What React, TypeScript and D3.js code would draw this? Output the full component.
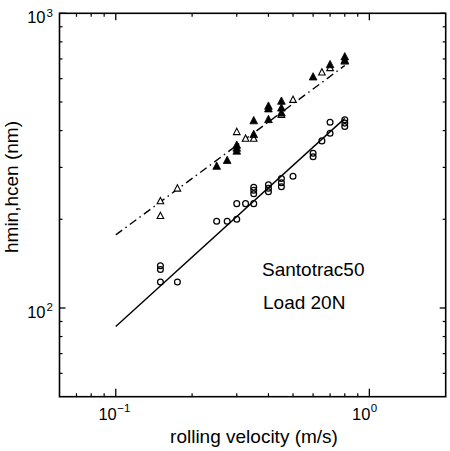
import React from "react";
import * as d3 from "d3";

// ---- data ----
// hmin (open circles)
const hminV = [0.15, 0.15, 0.15, 0.175, 0.25, 0.275, 0.3, 0.3, 0.325, 0.35, 0.35, 0.35, 0.35, 0.4, 0.4, 0.4, 0.45, 0.45, 0.45, 0.5, 0.6, 0.6, 0.65, 0.7, 0.7, 0.8, 0.8, 0.8];
const hminH = [139, 135, 122.5, 122.5, 197, 197, 200, 226, 226, 226, 257, 251, 244, 262, 255, 248, 275, 266, 258, 280, 335, 326, 369, 392, 427, 435, 424, 413];
// hcen (filled triangles)
const hcenFilledV = [0.25, 0.275, 0.3, 0.3, 0.3, 0.35, 0.35, 0.4, 0.4, 0.4, 0.45, 0.45, 0.45, 0.6, 0.7, 0.8, 0.8];
const hcenFilledH = [302, 316, 356, 348, 340, 387, 431, 483, 473, 435, 502, 476, 458, 607, 668, 710, 690];
// hcen (open triangles)
const hcenOpenV = [0.15, 0.15, 0.175, 0.3, 0.325, 0.35, 0.45, 0.5, 0.65, 0.7, 0.8];
const hcenOpenH = [230, 205, 254, 395, 375, 375, 452, 508, 629, 651, 686];
// fitted lines (end points)
const fitMinV = [0.1, 0.8];
const fitMinH = [86.6, 440];
const fitCenV = [0.1, 0.8];
const fitCenH = [177, 665];

const xDomain = [0.06, 2];
const yDomain = [50, 1000];
const xMajor = [0.1, 1];
const xMajorExp = ["\u22121", "0"];
const xMinor = [0.07, 0.08, 0.09, 0.2, 0.3, 0.4, 0.5, 0.6, 0.7, 0.8, 0.9];
const yMajor = [100, 1000];
const yMajorExp = ["2", "3"];
const yMinor = [60, 70, 80, 90, 200, 300, 400, 500, 600, 700, 800, 900];

const labels = ["Santotrac50", "Load 20N"];
const xTitle = "rolling velocity (m/s)";
const yTitle = "hmin,hcen (nm)";

const W = 450;
const H = 451;
const L = 59.5, R = 445.7, T = 13.3, B = 396.7;
const FONT = "'Liberation Sans', Arial, Helvetica, sans-serif";

export default function App() {
  const x = d3.scaleLog().domain(xDomain).range([L, R]);
  const y = d3.scaleLog().domain(yDomain).range([B, T]);
  const line = d3
    .line<[number, number]>()
    .x((d) => x(d[0]))
    .y((d) => y(d[1]));

  const tri = (cx: number, cy: number, s: number) =>
    `M${cx},${cy - s * 0.65}L${cx + s * 0.55},${cy + s * 0.4}L${cx - s * 0.55},${cy + s * 0.4}Z`;

  const major = 7, minor = 3.5;

  return (
    <div style={{ position: "absolute", left: 0, top: 0 }}>
      <svg width={W} height={H} style={{ display: "block", background: "#fff" }} fontFamily={FONT}>
        {/* frame */}
        <rect x={L} y={T} width={R - L} height={B - T} fill="none" stroke="#000" strokeWidth={1.6} />
        {/* x ticks */}
        {xMajor.map((v, i) => (
          <g key={"xm" + i}>
            <line x1={x(v)} x2={x(v)} y1={B} y2={B - major - 1} stroke="#000" strokeWidth={1.3} />
            <line x1={x(v)} x2={x(v)} y1={T} y2={T + major} stroke="#000" strokeWidth={1.3} />
            <text x={x(v) + 1} y={420} fontSize={16.5} textAnchor="end">10</text>
            <text x={x(v) + 1.5} y={411.5} fontSize={11.5}>{xMajorExp[i]}</text>
          </g>
        ))}
        {xMinor.map((v, i) => (
          <g key={"xn" + i}>
            <line x1={x(v)} x2={x(v)} y1={B} y2={B - minor} stroke="#000" strokeWidth={1.2} />
            <line x1={x(v)} x2={x(v)} y1={T} y2={T + minor} stroke="#000" strokeWidth={1.2} />
          </g>
        ))}
        {/* y ticks */}
        {yMajor.map((v, i) => (
          <g key={"ym" + i}>
            <line x1={L} x2={L + 6} y1={y(v)} y2={y(v)} stroke="#000" strokeWidth={1.3} />
            <line x1={R} x2={R - 6} y1={y(v)} y2={y(v)} stroke="#000" strokeWidth={1.3} />
            <text x={45.5} y={y(v) + 9.6} fontSize={16.5} textAnchor="end">10</text>
            <text x={46.5} y={y(v) + 3.5} fontSize={11.5}>{yMajorExp[i]}</text>
          </g>
        ))}
        {yMinor.map((v, i) => (
          <g key={"yn" + i}>
            <line x1={L} x2={L + 3} y1={y(v)} y2={y(v)} stroke="#000" strokeWidth={1.2} />
            <line x1={R} x2={R - 3} y1={y(v)} y2={y(v)} stroke="#000" strokeWidth={1.2} />
          </g>
        ))}
        {/* fitted lines */}
        <path
          d={line(fitMinV.map((v, i) => [v, fitMinH[i]] as [number, number])) || ""}
          fill="none"
          stroke="#000"
          strokeWidth={1.4}
        />
        <path
          d={line(fitCenV.map((v, i) => [v, fitCenH[i]] as [number, number])) || ""}
          fill="none"
          stroke="#000"
          strokeWidth={1.4}
          strokeDasharray="8,4,1.5,4"
        />
        {/* circles */}
        {hminV.map((v, i) => (
          <circle key={"c" + i} cx={x(v)} cy={y(hminH[i])} r={2.9} fill="none" stroke="#000" strokeWidth={1.25} />
        ))}
        {/* open triangles */}
        {hcenOpenV.map((v, i) => (
          <path key={"o" + i} d={tri(x(v), y(hcenOpenH[i]), 6)} fill="#fff" stroke="#000" strokeWidth={1.1} />
        ))}
        {/* filled triangles */}
        {hcenFilledV.map((v, i) => (
          <path key={"f" + i} d={tri(x(v), y(hcenFilledH[i]), 7)} fill="#000" stroke="#000" strokeWidth={0.8} />
        ))}
        {/* annotations */}
        <text x={262} y={276} fontSize={19}>{labels[0]}</text>
        <text x={263} y={309} fontSize={19}>{labels[1]}</text>
        {/* axis titles */}
        <text x={254} y={443} fontSize={19} textAnchor="middle">{xTitle}</text>
        <text transform="translate(18,187) rotate(-90)" fontSize={19} textAnchor="middle">{yTitle}</text>
      </svg>
    </div>
  );
}
